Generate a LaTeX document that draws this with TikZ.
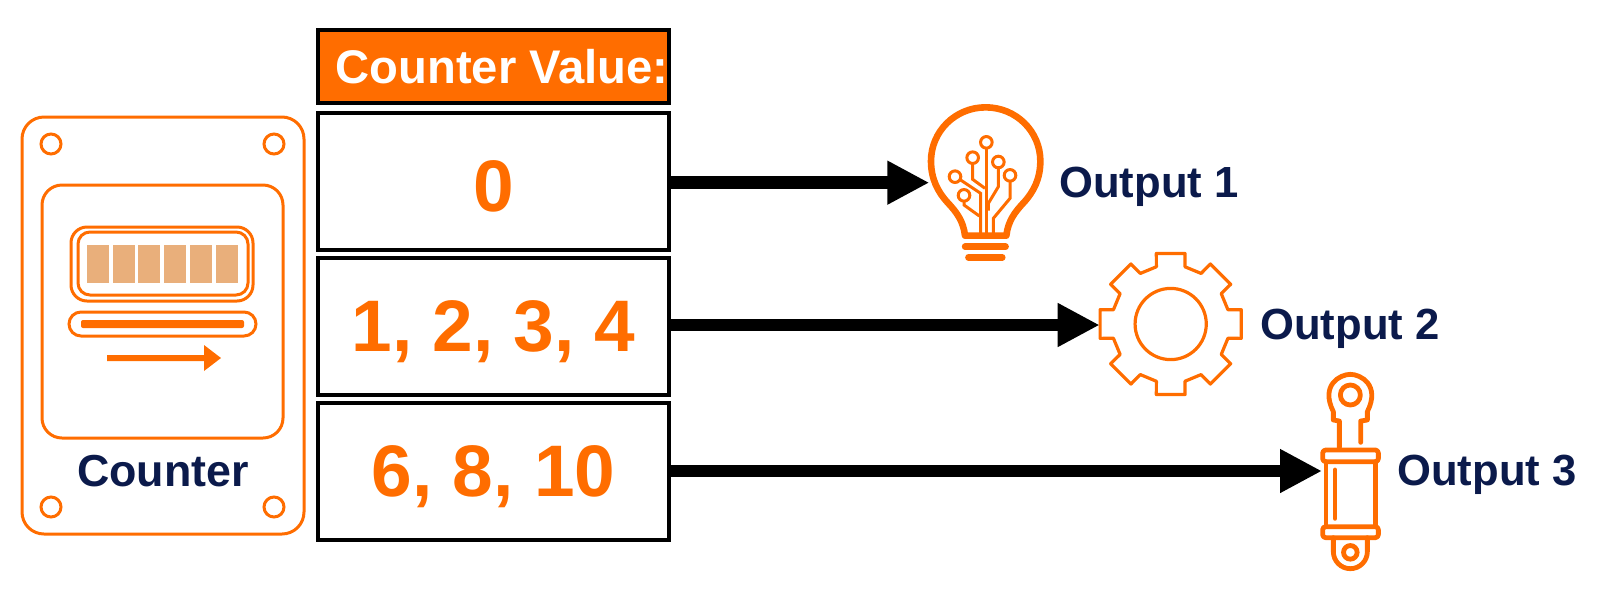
\documentclass[tikz,border=0pt]{standalone}
\usepackage{fontspec}
\setmainfont{Liberation Sans}
\usetikzlibrary{arrows.meta,positioning}
\definecolor{org}{HTML}{FF6D00}
\definecolor{navy}{HTML}{0B1A4B}
\definecolor{cellc}{HTML}{E9AF7B}
\tikzset{
  rowbox/.style={draw=black,line width=2pt,minimum width=175.5pt,minimum height=68.5pt,inner sep=0pt,outer sep=0pt},
  rowtext/.style={text=org,inner sep=0pt,font=\bfseries\fontsize{36.5}{40}\selectfont},
  headbox/.style={draw=black,fill=org,line width=2pt,minimum width=175.5pt,minimum height=36.5pt,inner sep=0pt,outer sep=0pt},
  headtext/.style={text=white,inner sep=0pt,font=\bfseries\fontsize{23.6}{26}\selectfont},
  outlabel/.style={text=navy,inner sep=0pt,font=\bfseries\fontsize{21.8}{24}\selectfont},
  counterlabel/.style={text=navy,inner sep=0pt,font=\bfseries\fontsize{22.4}{24}\selectfont},
  conn/.style={line width=6.3pt,draw=black,-{Triangle[length=21pt,width=20.5pt]},shorten >=0pt},
  thin org/.style={draw=org,line width=1.5pt},
  bulbline/.style={draw=org,line width=1.5pt},
  thick org/.style={draw=org,line width=2.4pt,line cap=round,line join=round},
  zoomtwo/.style={shift={(890,90)},x=.16667pt,y=-.16667pt},
  zoomthree/.style={shift={(1060,235)},x=.16667pt,y=-.16667pt},
  zoomfour/.style={shift={(1270,355)},x=.16667pt,y=-.16667pt},
}
\begin{document}
\begin{tikzpicture}[x=.5pt,y=-.5pt]
\useasboundingbox (0,0) rectangle (1600,606);
% --- counter ---
\draw[thin org,rounded corners=11pt] (22,117) rectangle (304,534);
\foreach \p in {(51,144),(274,144),(51,507),(274,507)}
  \draw[thin org] \p circle (5pt);
\draw[thin org,rounded corners=10pt] (42,185) rectangle (283,438);
\draw[thin org,rounded corners=8pt] (71,227) rectangle (253,301);
\draw[thin org,rounded corners=6pt] (78,232) rectangle (248,295);
\foreach \a/\b in {87/109,113/135,138/160,164/186,190/212,216/238}
  \fill[cellc] (\a,245) rectangle (\b,283);
\draw[thin org,rounded corners=6pt] (69,312) rectangle (256,336);
\fill[org,rounded corners=1pt] (81,320) rectangle (244,328);
\fill[org] (107,355) -- (204,355) -- (204,345) -- (221,358) -- (204,371) -- (204,361) -- (107,361) -- cycle;
\node[counterlabel] (counter) at (163,471) {Counter};
% --- table ---
\node[headbox] (head) at (493.5,66) {};
\node[headtext] (headt) at (502,67) {Counter Value:};
\node[rowbox] (row1) at (493.5,181.5) {};
\node[rowbox] (row2) at (493.5,326) {};
\node[rowbox] (row3) at (493.5,471) {};
\node[rowtext] (t1) at (493.5,186) {0};
\node[rowtext] (t2) at (493.5,332) {1, 2, 3, 4};
\node[rowtext] (t3) at (493.5,477) {6, 8, 10};
% --- bulb ---
\begin{scope}[zoomtwo]
\draw[draw=org,line width=3.3pt,line join=round]
  (225,437) .. controls (220,392) and (198,365) .. (175,340)
  .. controls (142,305) and (123,265) .. (123,213)
  .. controls (123,125) and (195,52) .. (287,52)
  .. controls (379,52) and (451,125) .. (451,213)
  .. controls (451,265) and (432,305) .. (399,340)
  .. controls (376,365) and (354,392) .. (349,437) -- cycle;
\draw[draw=org,line width=3.2pt,line cap=round] (225,470) -- (347,470);
\draw[draw=org,line width=3.2pt,line cap=round] (235,502) -- (337,502);
\draw[bulbline] (289,157) circle (2.9pt);
\draw[bulbline] (248,203) circle (2.9pt);
\draw[bulbline] (325,216) circle (2.9pt);
\draw[bulbline] (360,256) circle (2.9pt);
\draw[bulbline] (195,260) circle (2.9pt);
\draw[bulbline] (222,316) circle (2.9pt);
\draw[bulbline] (289,173) -- (289,432);
\draw[bulbline] (248,219) -- (248,268) -- (285,295);
\draw[bulbline] (325,232) -- (325,290) -- (295,340) -- (295,362);
\draw[bulbline] (360,272) -- (360,325) -- (310,385) -- (310,432);
\draw[bulbline] (209,268) -- (272,310) -- (272,432);
\draw[bulbline] (222,332) -- (222,345) -- (268,378);
\coordinate (bulb) at (118,278);
\end{scope}
\node[outlabel] (out1) at (1149,187) {Output 1};
% --- gear ---
\begin{scope}[zoomthree]
\draw[draw=org,line width=1.6pt] (332,267) circle (17.8pt);
\draw[draw=org,line width=1.6pt,line join=round,shift={(332,267)}]
  (-14:177)
  \foreach \a in {0,45,...,315} {
    -- (\a-14:177) -- (\a-11.5:216) -- (\a+11.5:216) -- (\a+14:177)
  } -- cycle;
\coordinate (gear) at (119,270);
\end{scope}
\node[outlabel] (out2) at (1350,329) {Output 2};
% --- cylinder ---
\begin{scope}[zoomfour]
\draw[thick org] (208,278) -- (208,198) -- (190,195) -- (190,170)
  .. controls (150,90) and (210,58) .. (241,58)
  .. controls (272,58) and (332,90) .. (292,170)
  -- (292,195) -- (272,198) -- (272,262);
\draw[thick org] (241,120) circle (5pt);
\draw[thick org,rounded corners=1.5pt] (158,285) rectangle (325,320);
\draw[thick org] (168,320) -- (168,515);
\draw[thick org] (316,320) -- (316,515);
\draw[thick org] (195,345) -- (195,490);
\draw[thick org,rounded corners=1.5pt] (158,515) rectangle (325,548);
\draw[thick org] (190,548) -- (190,590) arc[start angle=180,end angle=360,radius=8.5pt] -- (292,548);
\draw[thick org] (241,592) circle (3.4pt);
\coordinate (cyl) at (156,348);
\end{scope}
\node[outlabel] (out3) at (1487,475) {Output 3};
% --- connectors ---
\draw[conn] (row1.east |- bulb) -- (bulb);
\draw[conn] (row2.east |- gear) -- (gear);
\draw[conn] (row3.east |- cyl) -- (cyl);
\end{tikzpicture}
\end{document}
